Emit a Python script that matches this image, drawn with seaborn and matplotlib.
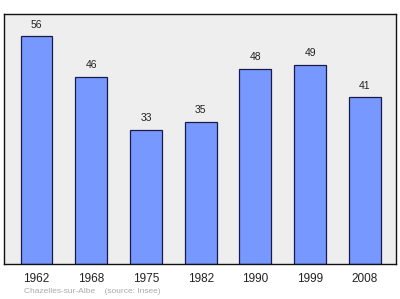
import matplotlib
matplotlib.use("Agg")
import matplotlib.pyplot as plt
import seaborn as sns
import pandas as pd

years = ["1962", "1968", "1975", "1982", "1990", "1999", "2008"]
population = [56, 46, 33, 35, 48, 49, 41]
source_text = "Chazelles-sur-Albe    (source: Insee)"

sns.set_style("white")
plt.rcParams['font.family'] = ['Liberation Sans', 'DejaVu Sans']

df = pd.DataFrame({"year": years, "pop": population})

fig = plt.figure(figsize=(4.0, 2.99), dpi=100)
ax = fig.add_axes([4/400, 1 - 263.7/299, (395.7-4)/400, (263.7-13.7)/299])
ax.set_facecolor("#eeeeee")

sns.barplot(data=df, x="year", y="pop", ax=ax, color="#7799ff", saturation=1,
            width=0.58, edgecolor="#1a1a4a", linewidth=0.9)

for i, v in enumerate(population):
    ax.text(i, v + 2.9, str(v), ha="center", va="center", fontsize=7.5, color="#222222")

ax.set_xlim(-0.594, 6.565)
ax.set_ylim(0, 61.6)
ax.set_xlabel("")
ax.set_ylabel("")
ax.set_yticks([])
ax.tick_params(axis="x", length=0, labelsize=8.5, pad=7, labelcolor="#222222")
for s in ax.spines.values():
    s.set_visible(True)
    s.set_color("#111111")
    s.set_linewidth(1.0)

fig.text(24.3/400, 1 - 291.7/299, source_text, fontsize=6.0, color="#aaaaaa",
         ha="left", va="center")

fig.savefig("out.png", dpi=100)
